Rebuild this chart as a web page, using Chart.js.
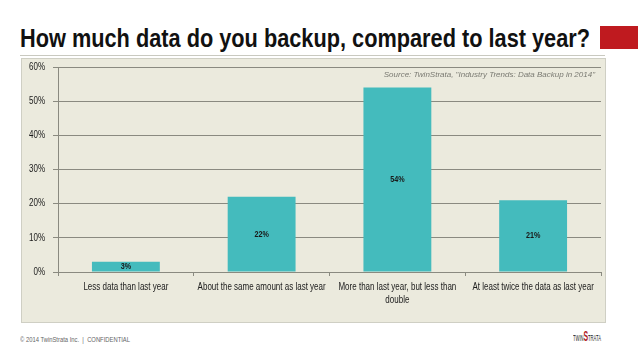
<!DOCTYPE html>
<html>
<head>
<meta charset="utf-8">
<script src="https://cdn.jsdelivr.net/npm/chart.js@4"></script>
<style>
  body { margin: 0; width: 638px; height: 359px; background: #fff; position: relative; overflow: hidden; }
  .fit { position: absolute; white-space: nowrap; transform-origin: 0 0; }
  #title { left: 20px; top: 24px; font-family: "Liberation Sans", Arial, sans-serif; font-weight: bold; font-size: 25px; line-height: 28px; color: #111; }
  #redbox { position: absolute; left: 600px; top: 26px; width: 38px; height: 23px; background: #BF1A1F; }
  #rule { position: absolute; left: 20px; top: 55px; width: 585px; height: 1px; background: #c9c9c0; }
  #panel { position: absolute; left: 21px; top: 58px; width: 583px; height: 263px; background: #EBEADD; border: 1px solid #cfcfc4; }
  #source { position: absolute; right: 10px; top: 11px; font-family: "Liberation Sans", Arial, sans-serif; font-style: italic; font-size: 8px; color: #7a7a72; }
  #footer { left: 20px; top: 335px; font-family: "Liberation Sans", Arial, sans-serif; font-size: 8px; line-height: 9px; color: #666; }
  #logo { left: 573px; top: 330px; font-family: "Liberation Sans", sans-serif; font-size: 9px; line-height: 12px; color: #222; }
  #logo b { color: #b01a1f; font-size: 15px; }
</style>
</head>
<body>
<div id="title" class="fit" data-w="570">How much data do you backup, compared to last year?</div>
<div id="redbox"></div>
<div id="rule"></div>
<div id="panel">
  <canvas id="c" width="583" height="263"></canvas>
  <div id="source">Source: TwinStrata, "Industry Trends: Data Backup in 2014"</div>
</div>
<div id="footer" class="fit" data-w="110">© 2014 TwinStrata Inc.&nbsp; |&nbsp; CONFIDENTIAL</div>
<div id="logo" class="fit" data-w="28">TWIN<b>S</b>TRATA</div>
<script>
// categories and values
var categories = [
    "Less data than last year",
    "About the same amount as last year",
    ["More than last year, but less than", "double"],
    "At least twice the data as last year"
];
var values = [3, 22, 54, 21];
var tickLabels = ["0%", "10%", "20%", "30%", "40%", "50%", "60%"];

// squeeze the html texts to the widths seen in the picture
var fits = document.querySelectorAll(".fit");
for (var i = 0; i < fits.length; i++) {
    var el = fits[i];
    var w = el.getBoundingClientRect().width;
    el.style.transform = "scaleX(" + (parseFloat(el.getAttribute("data-w")) / w) + ")";
}

var FONT = "'Liberation Sans', Arial, sans-serif";
var SQUEEZE = 0.8; // the original font is a narrow one

function narrowText(ctx, text, x, y, align) {
    ctx.save();
    ctx.translate(x, y);
    ctx.scale(SQUEEZE, 1);
    ctx.textAlign = align;
    ctx.fillText(text, 0, 0);
    ctx.restore();
}

// axis labels and % labels, drawn narrow at the scale positions
var narrowLabels = {
    id: "narrowLabels",
    afterDraw: function(chart) {
        var ctx = chart.ctx;
        var xs = chart.scales.x, ys = chart.scales.y;
        ctx.save();
        ctx.fillStyle = "#1a1a1a";
        ctx.textBaseline = "middle";
        ctx.font = "10px " + FONT;
        // y ticks
        for (var t = 0; t < tickLabels.length; t++) {
            narrowText(ctx, tickLabels[t], xs.left - 13, ys.getPixelForValue(t * 10), "right");
        }
        // categories
        for (var i = 0; i < categories.length; i++) {
            var lines = [].concat(categories[i]);
            for (var l = 0; l < lines.length; l++) {
                narrowText(ctx, lines[l], xs.getPixelForValue(i), xs.top + 15 + l * 13, "center");
            }
        }
        // values in the bars
        var meta = chart.getDatasetMeta(0);
        ctx.font = "bold 9px " + FONT;
        for (var k = 0; k < meta.data.length; k++) {
            var bar = meta.data[k];
            narrowText(ctx, values[k] + "%", bar.x, (bar.y + bar.base) / 2, "center");
        }
        ctx.restore();
    }
};

new Chart(document.getElementById("c"), {
    type: "bar",
    data: {
        labels: categories,
        datasets: [{
            data: values,
            backgroundColor: "#44BBBD",
            borderWidth: 0,
            barPercentage: 0.5,
            categoryPercentage: 1
        }]
    },
    options: {
        responsive: false,
        animation: false,
        layout: { padding: { top: 8, right: 4, left: 0, bottom: 0 } },
        plugins: { legend: { display: false }, tooltip: { enabled: false } },
        scales: {
            x: {
                grid: { display: true, drawOnChartArea: false, offset: true, color: "#8a8a80", tickLength: 4 },
                border: { color: "#8a8a80" },
                ticks: { display: false },
                afterFit: function(scale) { scale.height = 50; }
            },
            y: {
                min: 0,
                max: 60,
                grid: { color: "#8a8a80", tickLength: 5 },
                border: { color: "#8a8a80" },
                ticks: { display: false, stepSize: 10 },
                afterFit: function(scale) { scale.width = 36; }
            }
        }
    },
    plugins: [narrowLabels]
});
</script>
</body>
</html>
